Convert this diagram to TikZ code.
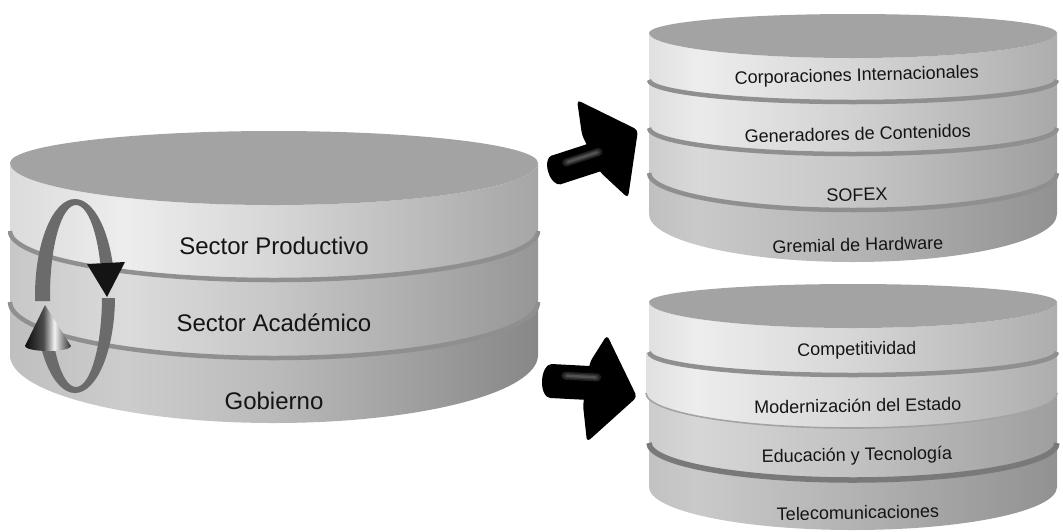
\documentclass[tikz,border=0pt]{standalone}
\usepackage{fontspec}
\setmainfont{Liberation Sans}
% #1 name, #2 left, #3 peak, #4 middle, #5 right, #6 peak position
\newcommand\mkband[6]{\pgfdeclarehorizontalshading{#1}{100bp}{rgb(0bp)=(#2,#2,#2); rgb(25bp)=(#2,#2,#2); rgb(#6bp)=(#3,#3,#3); rgb(50bp)=(#4,#4,#4); rgb(75bp)=(#5,#5,#5); rgb(100bp)=(#5,#5,#5)}}
\mkband{bandLa}{.86}{.93}{.84}{.65}{36}
\mkband{bandLb}{.78}{.86}{.78}{.59}{36}
\mkband{bandLc}{.75}{.80}{.73}{.53}{36}
\mkband{bandRa}{.88}{.93}{.84}{.68}{31}
\mkband{bandRb}{.87}{.92}{.82}{.66}{31}
\mkband{bandRc}{.80}{.85}{.78}{.62}{31}
\mkband{bandRd}{.75}{.79}{.71}{.57}{31}
\mkband{bandSb}{.88}{.93}{.84}{.68}{31}
\mkband{bandSc}{.80}{.84}{.76}{.62}{31}
\mkband{bandSd}{.76}{.79}{.70}{.57}{31}
\pgfdeclarehorizontalshading{conesh}{100bp}{rgb(0bp)=(.05,.05,.05); rgb(25bp)=(.05,.05,.05); rgb(45bp)=(.30,.30,.30); rgb(57bp)=(.95,.95,.95); rgb(66bp)=(.55,.55,.55); rgb(75bp)=(.20,.20,.20); rgb(100bp)=(.20,.20,.20)}
\definecolor{topface}{gray}{0.64}
\definecolor{sepc}{gray}{0.56}
\definecolor{ringc}{gray}{0.42}
\definecolor{txt}{gray}{0.08}
% band: #1 xl, #2 xr, #3 top tip y, #4 top ry, #5 bottom tip y, #6 bottom ry, #7 shading, #8 rx
\newcommand\cylband[8]{\shade[shading=#7] (#1,#3) -- (#1,#5) arc[start angle=180,end angle=0,x radius=#8,y radius=#6] -- (#2,#3) arc[start angle=0,end angle=180,x radius=#8,y radius=#4] -- cycle;}
% top face: #1 xl, #2 tip y, #3 back ry, #4 front ry, #5 rx
\newcommand\cyltop[5]{\fill[topface] (#1,#2) arc[start angle=180,end angle=360,x radius=#5,y radius=#3] arc[start angle=0,end angle=180,x radius=#5,y radius=#4] -- cycle;}
% separator: #1 xl, #2 tip y, #3 ry, #4 rx, #5 style
\newcommand\cylsep[5]{\draw[#5] (#1,#2) arc[start angle=180,end angle=0,x radius=#4,y radius=#3];}
\tikzset{
  sepline/.style={sepc, line width=4.5pt},
  lipline/.style={gray!72, line width=1.6pt},
  lt/.style={txt, anchor=base, inner sep=0pt, font=\fontsize{24}{28}\selectfont},
  rt/.style={txt, anchor=base, inner sep=0pt, font=\fontsize{18}{21}\selectfont},
  hl1/.style={black!88, line width=8pt, line cap=round},
  hl2/.style={black!78, line width=5pt, line cap=round},
  hl3/.style={black!68, line width=2.5pt, line cap=round},
}
\begin{document}
\begin{tikzpicture}[x=1pt,y=-1pt]
\useasboundingbox (0,0) rectangle (1063,531);
\fill[white] (0,0) rectangle (1063,531);

% ---------- left cylinder ----------
\cylband{10}{538}{302}{56}{355}{68}{bandLc}{264}
\cylband{10}{538}{231}{49}{302}{56}{bandLb}{264}
\cylband{10}{538}{163}{42}{231}{49}{bandLa}{264}
\cyltop{10}{163}{32}{42}{264}
\cylsep{10}{231}{49}{264}{sepline}
\cylsep{10}{302}{56}{264}{sepline}

\node[lt] (sp) at (274,254) {Sector Productivo};
\node[lt] (sa) at (274,331) {Sector Académico};
\node[lt] (gob) at (274,409) {Gobierno};

% circular arrow
\begin{scope}
  \clip (0,0) rectangle (200,263) (0,0) rectangle (76,301);
  \fill[ringc, even odd rule] (75,296) ellipse[x radius=40,y radius=97] (76,296) ellipse[x radius=26,y radius=91];
\end{scope}
\begin{scope}
  \clip (0,348) rectangle (76,460) (76,298) rectangle (200,460);
  \fill[ringc, even odd rule] (75,296) ellipse[x radius=40,y radius=97] (76,296) ellipse[x radius=26,y radius=91];
\end{scope}
\fill[black!92] (87,264) -- (125,262) -- (107,297) -- cycle;
\shade[shading=conesh] (45,305) -- (25,346) arc[start angle=180,end angle=0,x radius=23,y radius=5] -- cycle;

% ---------- top right cylinder ----------
\cylband{649}{1057}{173}{37}{214}{48}{bandRd}{204}
\cylband{649}{1057}{128}{26}{173}{37}{bandRc}{204}
\cylband{649}{1057}{80}{22}{128}{26}{bandRb}{204}
\cylband{649}{1057}{33}{25}{80}{22}{bandRa}{204}
\cyltop{649}{33}{19}{25}{204}
\cylsep{649}{80}{22}{204}{sepline}
\cylsep{649}{128}{26}{204}{sepline}
\cylsep{649}{173}{37}{204}{sepline}

\node[rt, rotate=1.5] (ci) at (857,81) {Corporaciones Internacionales};
\node[rt, rotate=1.5] (gc) at (858,140) {Generadores de Contenidos};
\node[rt, rotate=1.5] (sofex) at (857,201) {SOFEX};
\node[rt, rotate=1.5] (gh) at (858,251) {Gremial de Hardware};

% ---------- bottom right cylinder ----------
\cylband{649}{1057}{443}{37}{487}{43}{bandSd}{204}
\cylband{649}{1057}{393}{35}{443}{37}{bandSc}{204}
\cylband{646}{1057}{352}{23}{393}{35}{bandSb}{205.5}
\cylband{649}{1057}{302}{26}{352}{23}{bandRa}{204}
\cyltop{649}{302}{18}{26}{204}
\cylsep{649}{352}{23}{204}{sepline}
\cylsep{646}{393}{35}{205.5}{lipline}
\cylsep{649}{443}{37}{204}{sepc!85!black, line width=5.5pt}

\node[rt, rotate=1] (comp) at (857,355) {Competitividad};
\node[rt, rotate=1] (mod) at (858,412) {Modernización del Estado};
\node[rt, rotate=1] (edu) at (857,461) {Educación y Tecnología};
\node[rt, rotate=1] (tel) at (858,519) {Telecomunicaciones};

% ---------- 3D arrows ----------
\fill[black, rounded corners=4pt] (577,100) -- (638,130) -- (628,198) -- (600,172) -- (582,135) -- cycle;
\begin{scope}[shift={(556,170)}, rotate=18]
  \fill[black] (0,-15) rectangle (50,15);
  \draw[hl1] (12,-4) -- (46,-4);
  \draw[hl2] (13,-4) -- (45,-4);
  \draw[hl3] (14,-4) -- (44,-4);
  \fill[black] (0,0) ellipse[x radius=8,y radius=15];
\end{scope}

\fill[black, rounded corners=4pt] (607,335) -- (637,397) -- (587,442) -- (583,405) -- (590,362) -- cycle;
\begin{scope}[shift={(551,381)}, rotate=-3]
  \fill[black] (0,-17) rectangle (50,17);
  \draw[hl1] (14,-6) -- (46,-6);
  \draw[hl2] (15,-6) -- (45,-6);
  \draw[hl3] (16,-6) -- (44,-6);
  \fill[black] (0,0) ellipse[x radius=9,y radius=17];
\end{scope}
\end{tikzpicture}
\end{document}
